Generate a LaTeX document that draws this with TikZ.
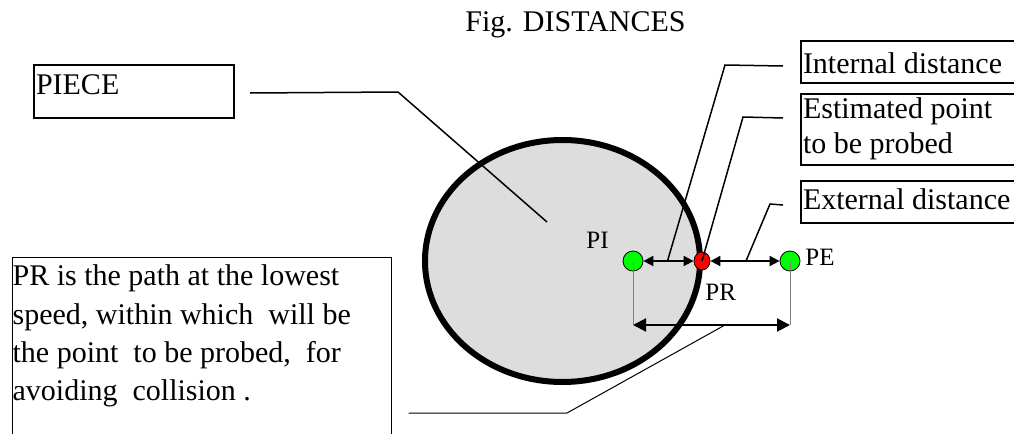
\documentclass[tikz,border=0pt]{standalone}
\usepackage{fontspec}
\setmainfont{Liberation Serif}
\usetikzlibrary{arrows.meta,shapes.geometric,calc}
\definecolor{piecegray}{RGB}{221,221,221}
\definecolor{dotgreen}{RGB}{0,255,0}
\definecolor{dotred}{RGB}{255,0,0}
\newcommand{\boxtext}[4]{\parbox[c][#2][t]{#1}{\vspace*{#3}#4}}
\begin{document}
\begin{tikzpicture}[x=0.5pt,y=-0.5pt,
	callout/.style={draw,line width=1pt,inner xsep=1pt,inner ysep=0pt,anchor=north west,font=\fontsize{15}{17.5}\selectfont},
	notebox/.style={draw,line width=0.5pt,inner xsep=0.3pt,inner ysep=0pt,anchor=north west,font=\fontsize{15}{19.2}\selectfont},
	ptlabel/.style={anchor=base west,inner sep=0pt,font=\fontsize{12.5}{15}\selectfont},
	ptdot/.style={circle,draw,line width=0.4pt,inner sep=0pt,minimum size=10pt,fill=dotgreen},
	leader/.style={line width=0.75pt},
	thinleader/.style={line width=0.5pt},
	twoway/.style={line width=1pt,{Triangle[length=5pt,width=5pt]}-{Triangle[length=5pt,width=5pt]}},
	rangearrow/.style={line width=1pt,{Triangle[length=6.5pt,width=6.5pt]}-{Triangle[length=6.5pt,width=6.5pt]}},
	guide/.style={draw=gray,line width=0.5pt}]
	\useasboundingbox (0,0) rectangle (1014,434);
	\clip (0,0) rectangle (1014,434);
	\node[anchor=base,inner sep=0pt,font=\fontsize{15}{17.5}\selectfont] (title) at (575.5,31) {Fig. DISTANCES};
	% the piece
	\draw[line width=3pt,fill=piecegray] (562.5,261) ellipse [x radius=68.75pt, y radius=60.5pt];
	% boxes
	\node[callout] (piece) at (33,64) {\boxtext{98pt}{26.5pt}{4.6pt}{PIECE}};
	\node[callout] (internal) at (800,40) {\boxtext{113pt}{21pt}{5.7pt}{Internal distance}};
	\node[callout] (estimated) at (800,93) {\boxtext{113pt}{35.5pt}{1.7pt}{Estimated point\\to be probed}};
	\node[callout] (external) at (800,180) {\boxtext{113pt}{21pt}{3.7pt}{External distance}};
	\node[notebox] (note) at (11.5,257) {\boxtext{189pt}{110pt}{3.7pt}{PR is the path at the lowest\\speed, within which~ will be\\the point~ to be probed,~ for\\avoiding~ collision .}};
	% points
	\node[ptdot] (pi) at (633,261) {};
	\node[ellipse,draw,line width=0.4pt,inner sep=0pt,minimum width=8pt,minimum height=9pt,fill=dotred] (pr) at (702,261) {};
	\node[ptdot] (pe) at (790,261) {};
	\node[ptlabel] (pilabel) at (586,248) {PI};
	\node[ptlabel] (pelabel) at (805,265) {PE};
	\node[ptlabel] (prlabel) at (705,300) {PR};
	\draw[twoway] (pi) -- (pr);
	\draw[twoway] (pr) -- (pe);
	\coordinate (rangeL) at (633,325);
	\coordinate (rangeR) at (790,325);
	\draw[guide] (pi.center) -- (rangeL);
	\draw[guide] (pe.center) -- (rangeR);
	\draw[rangearrow] (rangeL) -- (rangeR);
	% leaders
	\coordinate (pieceend) at (547,222);
	\coordinate (prend) at (725,325);
	\draw[leader] (piece.east) ++(15,1.5) -- (398,92) -- (pieceend);
	\draw[leader] (internal.west) ++(-17,4) -- (725,65) -- ($(pi)!0.5!(pr)$);
	\draw[leader] (estimated.west) ++(-17,-11.5) -- (743,117) -- (pr.center);
	\draw[leader] (external.west) ++(-17,3) -- (770,204) -- ($(pr)!0.5!(pe)$);
	\draw[thinleader] (note.north east) ++(17,156) -- (567,413) -- (prend);
\end{tikzpicture}
\end{document}
